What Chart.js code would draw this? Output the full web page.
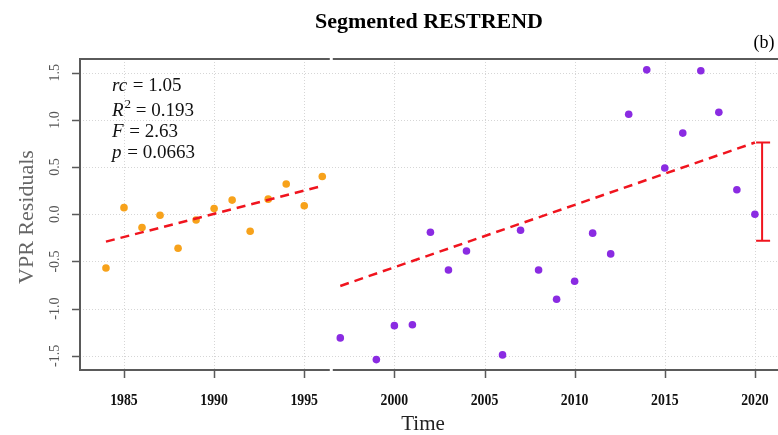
<!DOCTYPE html>
<html>
<head>
<meta charset="utf-8">
<script src="https://cdn.jsdelivr.net/npm/chart.js@4.4.1/dist/chart.umd.min.js"></script>
<style>
  html, body { margin: 0; padding: 0; background: #fff; }
  #wrap { width: 778px; height: 435px; }
</style>
</head>
<body>
<div id="wrap"><canvas id="c" width="778" height="435"></canvas></div>
<script>
// Residuals before the break (1984-1996)
const yearsA = [1984, 1985, 1986, 1987, 1988, 1989, 1990, 1991, 1992, 1993, 1994, 1995, 1996];
const residA = [-0.57, 0.07, -0.14, -0.01, -0.36, -0.06, 0.06, 0.15, -0.18, 0.16, 0.32, 0.09, 0.40];

// Residuals after the break (1997-2020)
const yearsB = [1997, 1999, 2000, 2001, 2002, 2003, 2004, 2006, 2007, 2008, 2009, 2010,
                2011, 2012, 2013, 2014, 2015, 2016, 2017, 2018, 2019, 2020];
const residB = [-1.31, -1.54, -1.18, -1.17, -0.19, -0.59, -0.39, -1.49, -0.17, -0.59, -0.90, -0.71,
                -0.20, -0.42, 1.06, 1.53, 0.49, 0.86, 1.52, 1.08, 0.26, 0.00];

// Fitted trend segments (start / end)
const trendYearsA = [1984, 1996];
const trendA = [-0.29, 0.30];
const trendYearsB = [1997, 2020];
const trendB = [-0.76, 0.76];

// Break magnitude bar at the end of the series
const barYear = [2020.4];
const barLow = [-0.28];
const barHigh = [0.76];

// Axis settings
const breakYear = 1996.5;
const xTicks = [1985, 1990, 1995, 2000, 2005, 2010, 2015, 2020];
const yTicks = [-1.5, -1.0, -0.5, 0.0, 0.5, 1.0, 1.5];
const xRange = [1982.56, 2021.06];
const yRange = [-1.65, 1.645];

// Fit statistics shown inside the panel
const statLines = [
  [["rc", "italic"], [" = 1.05", ""]],
  [["R", "italic"], ["2", "sup"], [" = 0.193", ""]],
  [["F", "italic"], [" = 2.63", ""]],
  [["p", "italic"], [" = 0.0663", ""]]
];

const SERIF = '"Liberation Serif", "Times New Roman", serif';

function pts(xs, ys) { return xs.map((x, i) => ({ x: x, y: ys[i] })); }

function squashText(ctx, text, x, y, sx) {
  ctx.save();
  ctx.translate(x, y);
  ctx.scale(sx, 1);
  ctx.fillText(text, 0, 0);
  ctx.restore();
}

const gridPlugin = {
  id: 'rgrid',
  beforeDatasetsDraw(chart) {
    const { ctx, chartArea: a, scales: { x, y } } = chart;
    ctx.save();
    ctx.strokeStyle = '#d6d6d6';
    ctx.lineWidth = 1;
    ctx.setLineDash([1, 2]);
    xTicks.forEach(t => {
      const px = Math.round(x.getPixelForValue(t)) + 0.5;
      ctx.beginPath(); ctx.moveTo(px, a.top); ctx.lineTo(px, a.bottom); ctx.stroke();
    });
    yTicks.forEach(t => {
      const py = Math.round(y.getPixelForValue(t)) + 0.5;
      ctx.beginPath(); ctx.moveTo(a.left, py); ctx.lineTo(chart.width, py); ctx.stroke();
    });
    ctx.restore();
  }
};

const framePlugin = {
  id: 'rframe',
  afterDatasetsDraw(chart) {
    const { ctx, chartArea: a, scales: { x, y } } = chart;
    const right = chart.width;
    ctx.save();

    // break bar
    ctx.strokeStyle = '#f0141e';
    ctx.lineWidth = 2;
    barYear.forEach((yr, i) => {
      const px = x.getPixelForValue(yr);
      const p1 = y.getPixelForValue(barHigh[i]);
      const p2 = y.getPixelForValue(barLow[i]);
      ctx.beginPath();
      ctx.moveTo(px, p1); ctx.lineTo(px, p2);
      ctx.moveTo(px - 6, p1); ctx.lineTo(px + 8, p1);
      ctx.moveTo(px - 6, p2); ctx.lineTo(px + 8, p2);
      ctx.stroke();
    });

    // frame with a gap at the breakpoint
    const bx = x.getPixelForValue(breakYear);
    ctx.strokeStyle = '#5a5a5a';
    ctx.lineWidth = 2;
    ctx.beginPath();
    ctx.moveTo(a.left, a.top); ctx.lineTo(bx - 1.5, a.top);
    ctx.moveTo(bx + 1.5, a.top); ctx.lineTo(right, a.top);
    ctx.moveTo(a.left, a.bottom); ctx.lineTo(bx - 1.5, a.bottom);
    ctx.moveTo(bx + 1.5, a.bottom); ctx.lineTo(right, a.bottom);
    ctx.moveTo(a.left, a.top - 1); ctx.lineTo(a.left, a.bottom + 1);
    ctx.stroke();

    // tick marks
    ctx.lineWidth = 1.5;
    ctx.beginPath();
    xTicks.forEach(t => {
      const px = Math.round(x.getPixelForValue(t)) + 0.5;
      ctx.moveTo(px, a.bottom); ctx.lineTo(px, a.bottom + 8);
    });
    yTicks.forEach(t => {
      const py = Math.round(y.getPixelForValue(t)) + 0.5;
      ctx.moveTo(a.left - 8, py); ctx.lineTo(a.left, py);
    });
    ctx.stroke();

    // x tick labels
    ctx.fillStyle = '#111';
    ctx.font = 'bold 16px ' + SERIF;
    ctx.textAlign = 'center';
    ctx.textBaseline = 'alphabetic';
    xTicks.forEach(t => squashText(ctx, String(t), x.getPixelForValue(t), 405, 0.86));

    // y tick labels (rotated)
    ctx.fillStyle = '#555';
    ctx.font = '14px ' + SERIF;
    yTicks.forEach(t => {
      const py = y.getPixelForValue(t);
      ctx.save();
      ctx.translate(59, py);
      ctx.rotate(-Math.PI / 2);
      ctx.textAlign = 'center';
      ctx.fillText(t.toFixed(1), 0, 0);
      ctx.restore();
    });

    // axis titles
    ctx.fillStyle = '#222';
    ctx.font = '21px ' + SERIF;
    ctx.textAlign = 'center';
    ctx.fillText('Time', 423, 430);

    ctx.save();
    ctx.fillStyle = '#666';
    ctx.font = '22px ' + SERIF;
    ctx.translate(33, 217);
    ctx.rotate(-Math.PI / 2);
    ctx.textAlign = 'center';
    ctx.fillText('VPR Residuals', 0, 0);
    ctx.restore();

    // chart title and panel tag
    ctx.fillStyle = '#000';
    ctx.font = 'bold 22px ' + SERIF;
    ctx.textAlign = 'center';
    ctx.fillText('Segmented RESTREND', 429, 28);
    ctx.font = '18px ' + SERIF;
    ctx.fillText('(b)', 764, 48);

    // fit statistics
    const baselines = [91, 116, 137, 158];
    ctx.textAlign = 'left';
    statLines.forEach((line, i) => {
      let cx = 112;
      line.forEach(([txt, style]) => {
        let by = baselines[i];
        if (style === 'italic') ctx.font = 'italic 19px ' + SERIF;
        else if (style === 'sup') { ctx.font = '13px ' + SERIF; by -= 8; }
        else ctx.font = '19px ' + SERIF;
        ctx.fillStyle = '#111';
        ctx.fillText(txt, cx, by);
        cx += ctx.measureText(txt).width + (style === 'italic' ? 1 : 0);
      });
    });

    ctx.restore();
  }
};

new Chart(document.getElementById('c'), {
  type: 'scatter',
  data: {
    datasets: [
      {
        type: 'line', data: pts(trendYearsA, trendA),
        borderColor: '#f0141e', borderWidth: 2.5, borderDash: [9, 6],
        pointRadius: 0, fill: false
      },
      {
        type: 'line', data: pts(trendYearsB, trendB),
        borderColor: '#f0141e', borderWidth: 2.5, borderDash: [9, 6],
        pointRadius: 0, fill: false
      },
      {
        data: pts(yearsA, residA),
        backgroundColor: '#f7a21b', borderColor: '#f7a21b',
        pointRadius: 3.8, pointBorderWidth: 0
      },
      {
        data: pts(yearsB, residB),
        backgroundColor: '#8a2be2', borderColor: '#8a2be2',
        pointRadius: 3.8, pointBorderWidth: 0
      }
    ]
  },
  options: {
    responsive: false,
    animation: false,
    devicePixelRatio: 1,
    layout: { padding: { left: 80, top: 59, right: 0, bottom: 65 } },
    plugins: { legend: { display: false }, tooltip: { enabled: false }, title: { display: false } },
    scales: {
      x: { type: 'linear', min: xRange[0], max: xRange[1], display: false },
      y: { type: 'linear', min: yRange[0], max: yRange[1], display: false }
    },
    elements: { line: { tension: 0 } }
  },
  plugins: [gridPlugin, framePlugin]
});
</script>
</body>
</html>
